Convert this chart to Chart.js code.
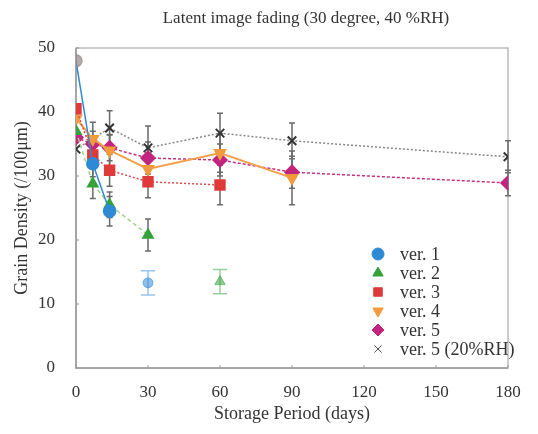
<!DOCTYPE html>
<html>
<head>
<meta charset="utf-8">
<script src="https://cdn.jsdelivr.net/npm/chart.js@4/dist/chart.umd.min.js"></script>
<style>
	html, body { margin: 0; padding: 0; background: #fff; }
	#wrap { width: 538px; height: 434px; }
</style>
</head>
<body>
<div id="wrap"><canvas id="chart" width="538" height="434"></canvas></div>
<script>
'use strict';

// Storage period (days) and grain density (/100um)
var ver1Days = [0, 7, 14];
var ver1Density = [48, 31.9, 24.5];
var ver1Err = [0, 2, 2.3];

var ver2Days = [0, 7, 14, 30];
var ver2Density = [37, 28.8, 25.5, 20.8];
var ver2Err = [0, 2.3, 2, 2.5];

var ver3Days = [0, 7, 14, 30, 60];
var ver3Density = [40.5, 33.3, 30.9, 29.1, 28.6];
var ver3Err = [0, 2, 2.5, 2.5, 3.1];

var ver4Days = [0, 7, 14, 30, 60, 90];
var ver4Density = [39, 35.8, 34, 31.1, 33.6, 29.7];
var ver4Err = [0, 2.6, 2.5, 2.5, 3, 4.2];

var ver5Days = [0, 7, 14, 30, 60, 90, 180];
var ver5Density = [36, 35, 34.4, 32.8, 32.5, 30.6, 28.9];
var ver5Err = [0, 2, 2, 2.5, 2.5, 2.5, 2];

var ver5rhDays = [0, 14, 30, 60, 90, 180];
var ver5rhDensity = [34.2, 37.5, 34.4, 36.7, 35.5, 33];
var ver5rhErr = [0, 2.7, 3.4, 3.1, 2.8, 2.5];

// faint leftover points (ver. 1 at 30 days, ver. 2 at 60 days)
var ver1GhostDays = [30];
var ver1GhostDensity = [13.3];
var ver2GhostDays = [60];
var ver2GhostDensity = [13.5];
var ghostErr = [1.9];

var dayTicks = [0, 30, 60, 90, 120, 150, 180];
var densityTicks = [0, 10, 20, 30, 40, 50];

var SERIF = '"Liberation Serif", "DejaVu Serif", serif';
var TEXT = '#333';

function points(days, vals) {
	return days.map(function (d, i) {
		return {x: d, y: vals[i]};
	});
}

var datasets = [
	{
		label: 'ver. 1',
		data: points(ver1Days, ver1Density),
		errors: ver1Err,
		borderColor: '#2f8ad6',
		borderWidth: 1.5,
		pointStyle: 'circle',
		pointRadius: 6,
		pointBackgroundColor: function (c) { return c.dataIndex === 0 ? 'rgba(150,135,135,0.7)' : '#2f8ad6'; },
		pointBorderColor: function (c) { return c.dataIndex === 0 ? 'rgba(150,135,135,0.7)' : '#2f8ad6'; }
	},
	{
		label: 'ver. 2',
		data: points(ver2Days, ver2Density),
		errors: ver2Err,
		borderColor: '#9fd28a',
		borderWidth: 1.5,
		borderDash: [4, 3],
		pointStyle: 'triangle',
		pointRadius: 6,
		pointBackgroundColor: '#35a13a',
		pointBorderColor: '#35a13a'
	},
	{
		label: 'ver. 3',
		data: points(ver3Days, ver3Density),
		errors: ver3Err,
		borderColor: '#e04a4a',
		borderWidth: 1.5,
		borderDash: [2, 2],
		pointStyle: 'rect',
		pointRadius: 7,
		pointBackgroundColor: '#e0393a',
		pointBorderColor: '#e0393a'
	},
	{
		label: 'ver. 4',
		data: points(ver4Days, ver4Density),
		errors: ver4Err,
		borderColor: '#f2a04a',
		borderWidth: 2,
		pointStyle: 'triangle',
		rotation: 180,
		pointRadius: 6,
		pointBackgroundColor: '#f29a3c',
		pointBorderColor: '#f29a3c'
	},
	{
		label: 'ver. 5',
		data: points(ver5Days, ver5Density),
		errors: ver5Err,
		borderColor: '#c8307e',
		borderWidth: 1.5,
		borderDash: [3, 2],
		pointStyle: 'rectRot',
		pointRadius: 7,
		pointBackgroundColor: '#c2257d',
		pointBorderColor: '#c2257d'
	},
	{
		label: 'ver. 5 (20%RH)',
		data: points(ver5rhDays, ver5rhDensity),
		errors: ver5rhErr,
		borderColor: '#888',
		borderWidth: 1.5,
		borderDash: [2, 2],
		pointStyle: 'crossRot',
		pointRadius: 6,
		pointBorderWidth: 2,
		pointBackgroundColor: '#333',
		pointBorderColor: '#333'
	},
	{
		label: 'ghost1',
		data: points(ver1GhostDays, ver1GhostDensity),
		errors: ghostErr,
		errorColor: 'rgba(47,138,214,0.5)',
		capWidth: 14,
		showLine: false,
		pointStyle: 'circle',
		pointRadius: 5,
		pointBackgroundColor: 'rgba(47,138,214,0.55)',
		pointBorderColor: 'rgba(47,138,214,0.55)'
	},
	{
		label: 'ghost2',
		data: points(ver2GhostDays, ver2GhostDensity),
		errors: ghostErr,
		errorColor: 'rgba(53,161,58,0.5)',
		capWidth: 14,
		showLine: false,
		pointStyle: 'triangle',
		pointRadius: 6,
		pointBackgroundColor: 'rgba(53,161,58,0.55)',
		pointBorderColor: 'rgba(53,161,58,0.55)'
	}
];

// box around the plot, inward ticks and error bars
var framePlugin = {
	id: 'frame',
	beforeDatasetsDraw: function (chart) {
		var ctx = chart.ctx,
			a = chart.chartArea,
			xs = chart.scales.x,
			ys = chart.scales.y;

		ctx.save();
		ctx.strokeStyle = '#bbb';
		ctx.lineWidth = 1.5;
		ctx.strokeRect(a.left, a.top, a.right - a.left, a.bottom - a.top);
		ctx.strokeStyle = '#999';
		ctx.beginPath();
		ctx.moveTo(a.left, a.top);
		ctx.lineTo(a.left, a.bottom);
		ctx.lineTo(a.right, a.bottom);
		ctx.stroke();

		ctx.lineWidth = 1;
		ctx.beginPath();
		dayTicks.forEach(function (d) {
			var px = xs.getPixelForValue(d);
			ctx.moveTo(px, a.bottom);
			ctx.lineTo(px, a.bottom - 3);
		});
		densityTicks.forEach(function (v) {
			var py = ys.getPixelForValue(v);
			ctx.moveTo(a.left, py);
			ctx.lineTo(a.left + 3, py);
		});
		ctx.stroke();

		chart.data.datasets.forEach(function (ds) {
			if (!ds.errors) {
				return;
			}
			var cap = (ds.capWidth || 6) / 2;
			ctx.strokeStyle = ds.errorColor || '#6a6a6a';
			ctx.lineWidth = 1.5;
			ds.data.forEach(function (p, i) {
				var e = ds.errors[i];
				if (!e) {
					return;
				}
				var px = xs.getPixelForValue(p.x),
					top = ys.getPixelForValue(p.y + e),
					bot = ys.getPixelForValue(p.y - e);
				ctx.beginPath();
				ctx.moveTo(px, top);
				ctx.lineTo(px, bot);
				ctx.moveTo(px - cap, top);
				ctx.lineTo(px + cap, top);
				ctx.moveTo(px - cap, bot);
				ctx.lineTo(px + cap, bot);
				ctx.stroke();
			});
		});
		ctx.restore();
	},
	afterDraw: function (chart) {
		var ctx = chart.ctx;

		ctx.save();
		ctx.fillStyle = TEXT;
		ctx.textBaseline = 'middle';

		// title, sits a little right of the plot centre in the original
		ctx.font = '17px ' + SERIF;
		ctx.textAlign = 'center';
		ctx.fillText('Latent image fading (30 degree, 40 %RH)', 306, 19);

		// legend inside the plot, lower right
		ctx.font = '18px ' + SERIF;
		ctx.textAlign = 'left';
		var x0 = 378, y0 = 254, step = 19;
		chart.data.datasets.slice(0, 6).forEach(function (ds, i) {
			var y = y0 + i * step,
				opts = {
					pointStyle: ds.pointStyle,
					radius: ds.pointStyle === 'crossRot' ? 5 : 6,
					rotation: ds.rotation || 0,
					borderWidth: ds.pointBorderWidth || 1
				};
			ctx.fillStyle = i === 0 ? '#2f8ad6' : ds.pointBackgroundColor;
			ctx.strokeStyle = i === 0 ? '#2f8ad6' : ds.pointBorderColor;
			if (i === 5) {
				ctx.strokeStyle = '#555';
				opts.borderWidth = 1.5;
			}
			Chart.helpers.drawPoint(ctx, opts, x0, y);
			ctx.fillStyle = TEXT;
			ctx.fillText(ds.label, 400, y + 1);
		});
		ctx.restore();
	}
};

var chart = new Chart(document.getElementById('chart'), {
	type: 'line',
	data: {datasets: datasets},
	plugins: [framePlugin],
	options: {
		responsive: false,
		animation: false,
		layout: {
			padding: {left: 0, right: 30, top: 48, bottom: 0}
		},
		elements: {
			line: {tension: 0, fill: false}
		},
		plugins: {
			legend: {display: false},
			title: {display: false},
			tooltip: {enabled: false}
		},
		scales: {
			x: {
				type: 'linear',
				min: 0,
				max: 180,
				afterFit: function (s) { s.height = 66; },
				afterBuildTicks: function (s) {
					s.ticks = dayTicks.map(function (v) { return {value: v}; });
				},
				grid: {display: false},
				border: {display: false},
				ticks: {
					padding: 6,
					color: TEXT,
					font: {family: SERIF, size: 17}
				},
				title: {
					display: true,
					text: 'Storage Period (days)',
					color: TEXT,
					font: {family: SERIF, size: 18},
					padding: {top: 4, bottom: 9}
				}
			},
			y: {
				min: 0,
				max: 50,
				afterFit: function (s) { s.width = 76; },
				afterBuildTicks: function (s) {
					s.ticks = densityTicks.map(function (v) { return {value: v}; });
				},
				grid: {display: false},
				border: {display: false},
				ticks: {
					padding: 13,
					color: TEXT,
					font: {family: SERIF, size: 17}
				},
				title: {
					display: true,
					text: 'Grain Density (/100μm)',
					color: TEXT,
					font: {family: SERIF, size: 18},
					padding: {top: 11, bottom: 4}
				}
			}
		}
	}
});
</script>
</body>
</html>
